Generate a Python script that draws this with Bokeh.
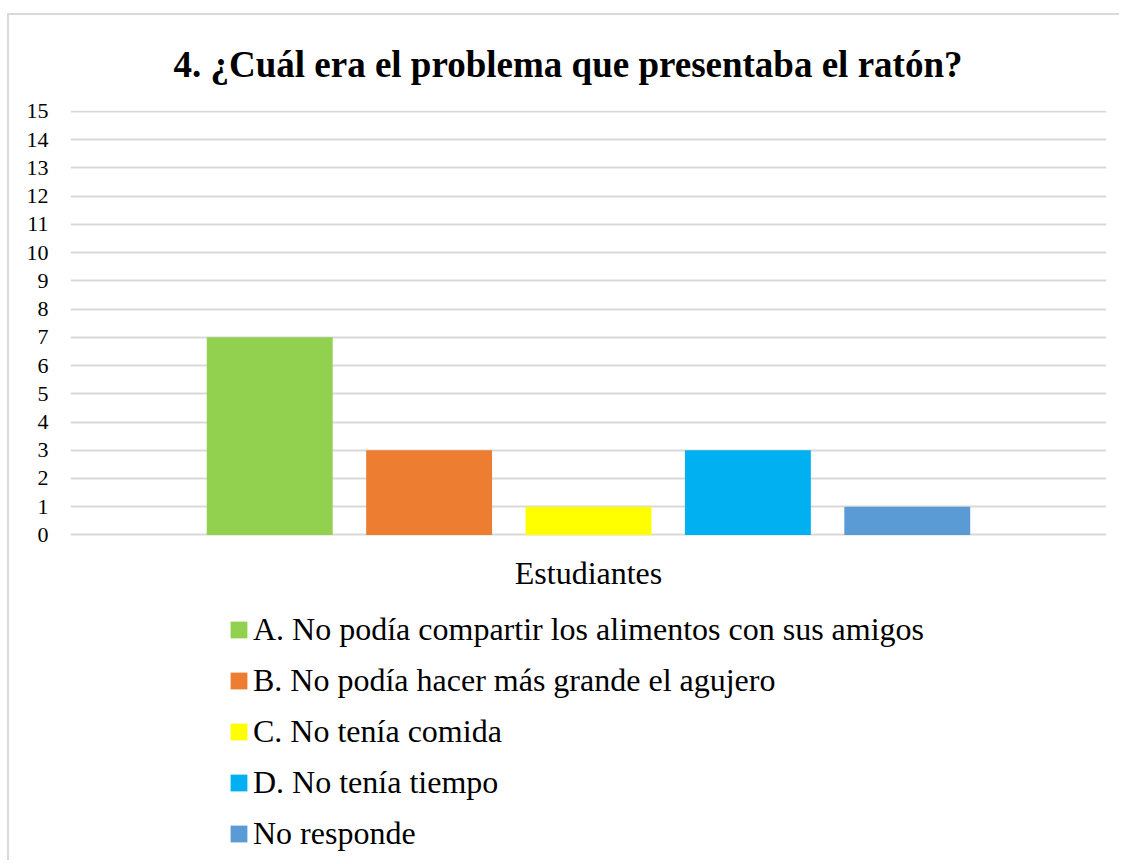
from bokeh.plotting import figure
from bokeh.models import ColumnDataSource, Range1d, FixedTicker, Legend, LegendItem, Label
from bokeh.embed import file_html
from bokeh.resources import INLINE

# Data
categories = [
    "A. No podía compartir los alimentos con sus amigos",
    "B. No podía hacer más grande el agujero",
    "C. No tenía comida",
    "D. No tenía tiempo",
    "No responde",
]
values = [7, 3, 1, 3, 1]
colors = ["#92d050", "#ed7d31", "#ffff00", "#00b0f0", "#5b9bd5"]
positions = [-2, -1, 0, 1, 2]
y_ticks = list(range(0, 16))
title_text = "4. ¿Cuál era el problema que presentaba el ratón?"
x_label = "Estudiantes"

FONT = "'Liberation Serif', 'Times New Roman', serif"

p = figure(
    width=1112, height=847,
    output_backend="svg", toolbar_location=None,
    x_range=Range1d(-3.25, 3.25), y_range=Range1d(-11.604, 15.035),
    min_border_left=61, min_border_right=15, min_border_top=94, min_border_bottom=0,
)
p.margin = (13, 0, 0, 7)
p.styles = {"border-top": "2px solid #d9d9d9", "border-left": "2px solid #d9d9d9"}
p.outline_line_color = None
p.background_fill_color = "white"
p.border_fill_color = "white"

p.title.text = title_text
p.title.text_font = FONT
p.title.text_font_size = "37px"
p.title.text_font_style = "bold"
p.title.text_color = "black"
p.title.align = "left"
p.title.offset = 103
p.title.standoff = 52

src = ColumnDataSource(dict(x=positions, top=values, color=colors, cat=categories))
r = p.vbar(x="x", top="top", width=0.79, bottom=0, fill_color="color", line_color=None, source=src)

# Grid
p.xgrid.visible = False
p.ygrid.ticker = FixedTicker(ticks=y_ticks)
p.ygrid.grid_line_color = "#d9d9d9"
p.ygrid.grid_line_width = 2

# Y axis
p.yaxis.ticker = FixedTicker(ticks=y_ticks)
p.yaxis.axis_line_color = None
p.yaxis.major_tick_line_color = None
p.yaxis.minor_tick_line_color = None
p.yaxis.major_label_text_font = FONT
p.yaxis.major_label_text_font_size = "22px"
p.yaxis.major_label_text_color = "black"
p.yaxis.major_label_standoff = 16

# X axis (category label drawn as a label under the single category)
p.xaxis.visible = False
p.add_layout(Label(x=0, y=-1.344, text=x_label, text_font=FONT, text_font_size="32px",
                   text_color="black", text_align="center", text_baseline="middle"))

items = [LegendItem(label=c, renderers=[r], index=i) for i, c in enumerate(categories)]
legend = Legend(items=items, location=(158, 10), orientation="vertical")
legend.label_text_font = FONT
legend.label_text_font_size = "32px"
legend.label_text_color = "black"
legend.glyph_width = 21
legend.glyph_height = 21
legend.label_height = 36
legend.spacing = 14
legend.padding = 0
legend.margin = 0
legend.label_standoff = 4
legend.border_line_color = None
legend.background_fill_alpha = 0
p.add_layout(legend, "center")

open("out.html", "w").write(file_html(p, INLINE))
